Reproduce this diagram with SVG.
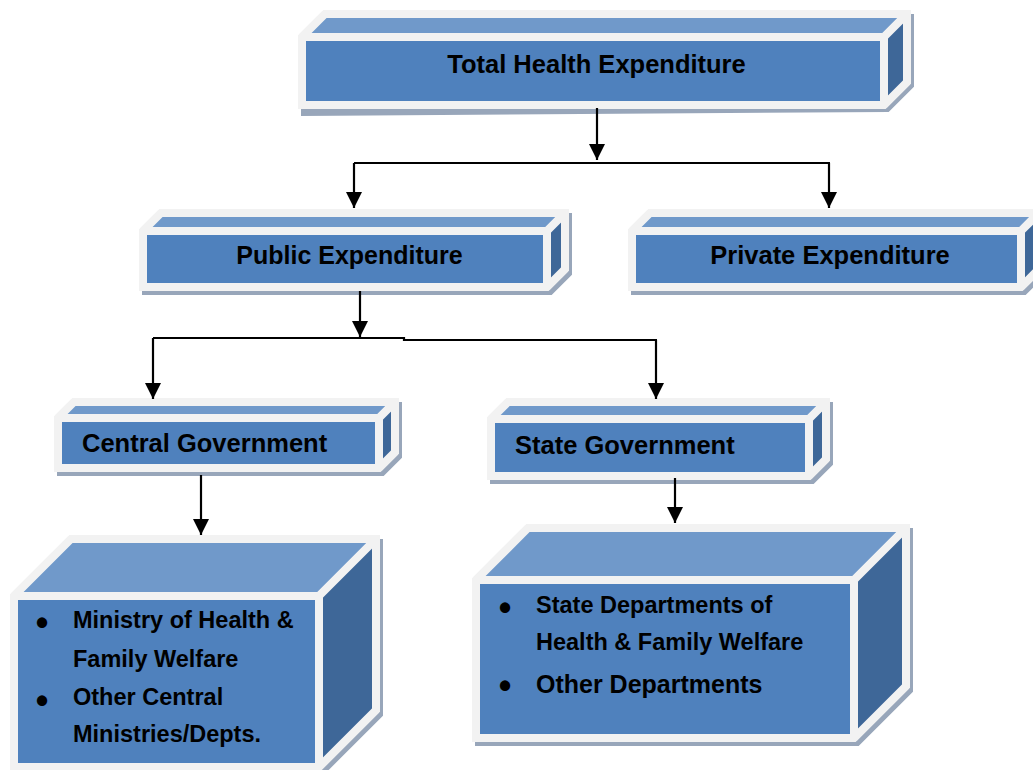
<svg xmlns="http://www.w3.org/2000/svg" width="1033" height="770" viewBox="0 0 1033 770">
<defs>
<style>
.sh{fill:#98a6ba;stroke:#98a6ba;stroke-width:8;stroke-linejoin:miter}
.sil{fill:#f2f2f2;stroke:#f2f2f2;stroke-width:8;stroke-linejoin:miter}
.front{fill:#4f81bd;stroke:#f2f2f2;stroke-width:8;stroke-linejoin:bevel}
.top{fill:#7099ca;stroke:#f2f2f2;stroke-width:8;stroke-linejoin:bevel}
.side{fill:#3e6798;stroke:#f2f2f2;stroke-width:8;stroke-linejoin:bevel}
text{font-family:"Liberation Sans",Arial,sans-serif;font-weight:bold;fill:#000}
.h{font-size:25.5px}
.b{font-size:23.5px}
.dot{font-size:36px}
.c{fill:none;stroke:#000;stroke-width:2.2}
</style>
<marker id="ah" markerUnits="userSpaceOnUse" markerWidth="18" markerHeight="18" refX="16" refY="8" orient="auto">
<path d="M0,0 L16,8 L0,16 Z" fill="#000"/>
</marker>
</defs>
<rect width="1033" height="770" fill="#fff"/>

<g id="total">
<polygon class="sh" points="305,112 305,41 328,18 910,18 910,85 887,108"/>
<polygon class="sil" points="302,105 302,37 325,14 907,14 907,82 884,105"/>
<polygon class="top" points="302,37 325,14 907,14 884,37"/>
<polygon class="side" points="884,37 907,14 907,82 884,105"/>
<rect class="front" x="302" y="37" width="582" height="68"/>
<text class="h" x="596.5" y="73" text-anchor="middle">Total Health Expenditure</text>
</g>

<g id="public">
<polygon class="sh" points="146,291 146,235 164,217 568,217 568,273 550,291"/>
<polygon class="sil" points="143,287 143,231 161,213 565,213 565,269 547,287"/>
<polygon class="top" points="143,231 161,213 565,213 547,231"/>
<polygon class="side" points="547,231 565,213 565,269 547,287"/>
<rect class="front" x="143" y="231" width="404" height="56"/>
<text class="h" x="349.5" y="264" text-anchor="middle" style="font-size:25px">Public Expenditure</text>
</g>

<g id="private">
<polygon class="sh" points="635,291 635,235 653,217 1042,217 1042,273 1024,291"/>
<polygon class="sil" points="632,287 632,231 650,213 1039,213 1039,269 1021,287"/>
<polygon class="top" points="632,231 650,213 1039,213 1021,231"/>
<polygon class="side" points="1021,231 1039,213 1039,269 1021,287"/>
<rect class="front" x="632" y="231" width="389" height="56"/>
<text class="h" x="830" y="264" text-anchor="middle">Private Expenditure</text>
</g>

<g id="central">
<polygon class="sh" points="61,472 61,422 77,406 398,406 398,456 382,472"/>
<polygon class="sil" points="58,468 58,418 74,402 395,402 395,452 379,468"/>
<polygon class="top" points="58,418 74,402 395,402 379,418"/>
<polygon class="side" points="379,418 395,402 395,452 379,468"/>
<rect class="front" x="58" y="418" width="321" height="50"/>
<text class="h" x="82" y="452">Central Government</text>
</g>

<g id="state">
<polygon class="sh" points="494,480 494,423 511,406 829,406 829,463 812,480"/>
<polygon class="sil" points="491,476 491,419 508,402 826,402 826,459 809,476"/>
<polygon class="top" points="491,419 508,402 826,402 809,419"/>
<polygon class="side" points="809,419 826,402 826,459 809,476"/>
<rect class="front" x="491" y="419" width="318" height="57"/>
<text class="h" x="515" y="454">State Government</text>
</g>

<g id="central-depts">
<polygon class="sh" points="17,771 17,600 74,543 379,543 379,714 322,771"/>
<polygon class="sil" points="14,767 14,596 71,539 376,539 376,710 319,767"/>
<polygon class="top" points="14,596 71,539 376,539 319,596"/>
<polygon class="side" points="319,596 376,539 376,710 319,767"/>
<rect class="front" x="14" y="596" width="305" height="171"/>
<text class="dot" x="42" y="635" text-anchor="middle">•</text>
<text class="b" x="73" y="628">Ministry of Health &amp;</text>
<text class="b" x="73" y="667">Family Welfare</text>
<text class="dot" x="42" y="713" text-anchor="middle">•</text>
<text class="b" x="73" y="705">Other Central</text>
<text class="b" x="73" y="742">Ministries/Depts.</text>
</g>

<g id="state-depts">
<polygon class="sh" points="479,742 479,584 531,532 909,532 909,690 857,742"/>
<polygon class="sil" points="476,738 476,580 528,528 906,528 906,686 854,738"/>
<polygon class="top" points="476,580 528,528 906,528 854,580"/>
<polygon class="side" points="854,580 906,528 906,686 854,738"/>
<rect class="front" x="476" y="580" width="378" height="158"/>
<text class="dot" x="505" y="620" text-anchor="middle">•</text>
<text class="b" x="536" y="613">State Departments of</text>
<text class="b" x="536" y="650">Health &amp; Family Welfare</text>
<text class="dot" x="505" y="698" text-anchor="middle">•</text>
<text class="b" x="536" y="693" style="font-size:25px">Other Departments</text>
</g>

<g id="connectors">
<path class="c" d="M597,108 V160" marker-end="url(#ah)"/>
<path class="c" d="M354,163 H830"/>
<path class="c" d="M354,163 V208" marker-end="url(#ah)"/>
<path class="c" d="M829,163 V208" marker-end="url(#ah)"/>
<path class="c" d="M360,291 V337" marker-end="url(#ah)"/>
<path class="c" d="M153,338 H404 V340 H657"/>
<path class="c" d="M153,338 V399" marker-end="url(#ah)"/>
<path class="c" d="M656,340 V399" marker-end="url(#ah)"/>
<path class="c" d="M201,475 V535" marker-end="url(#ah)"/>
<path class="c" d="M675,478 V523" marker-end="url(#ah)"/>
</g>
</svg>
